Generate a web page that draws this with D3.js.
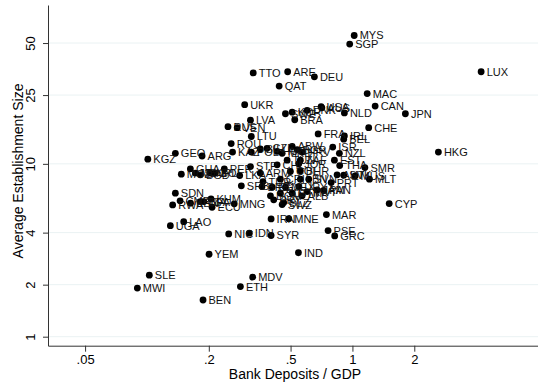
<!DOCTYPE html>
<html>
<head>
<meta charset="utf-8">
<script src="https://cdn.jsdelivr.net/npm/d3@7"></script>
<style>
  body { margin: 0; background: #fff; }
  svg { font-family: "Liberation Sans", Arial, Helvetica, sans-serif; }
</style>
</head>
<body>
<div id="chart"></div>
<script>
// country codes, bank deposits / GDP, average establishment size
const codes = [
  "MYS","SGP","TTO","ARE","DEU","QAT","LUX","MAC","UKR","CAN",
  "JPN","NLD","USA","AUS","DNK","KOR","SWE","BRA","CHE","FRA",
  "IRL","BEL","HKG","ISR","NZL","ABW","HRV","EST","THA","SMR",
  "MLT","AUT","SVK","MUS","PRT","PAN","JAM","ALB","CYP","MAR",
  "MNE","PSE","GRC","IND","IRN","SWZ","UGA","LAO","NIC","IDN",
  "SYR","YEM","SLE","MWI","MDV","ETH","BEN","LVA","RUS","VEN",
  "LTU","ROU","KAZ","KGZ","GEO","ARG","GHA","PER","MOZ","MDG",
  "BGD","NPL","BOL","LKA","STP","ARM","SRB","BRB","TUR","SDN",
  "KHM","MNG","RWA","CMR","KEN","TZA","ECU","PRY","DOM","POL",
  "BIH","CZE","HUN","MKD","BGR","CHL","TUN","JOR","ZAF","BHR",
  "COL","CRI","SVN","LBN","MEX","EGY","URY","KWT","SLV","GTM",
  "BLZ","BFA"
];
const depositsGDP = [
  1.02, 0.97, 0.329, 0.484, 0.653, 0.44, 4.23, 1.18, 0.299, 1.29,
  1.81, 0.914, 0.704, 0.71, 0.602, 0.509, 0.472, 0.524, 1.20, 0.681,
  0.914, 0.907, 2.62, 0.802, 0.864, 0.509, 0.569, 0.817, 0.867, 1.15,
  1.21, 0.842, 0.907, 1.03, 0.788, 0.725, 0.673, 0.569, 1.51, 0.747,
  0.49, 0.761, 0.82, 0.546, 0.402, 0.455, 0.130, 0.151, 0.25, 0.315,
  0.402, 0.2006, 0.1027, 0.0898, 0.327, 0.285, 0.1875, 0.319, 0.248, 0.275,
  0.322, 0.257, 0.261, 0.101, 0.1375, 0.1855, 0.1627, 0.238, 0.147, 0.172,
  0.182, 0.204, 0.215, 0.2827, 0.319, 0.356, 0.288, 0.363, 0.367, 0.1375,
  0.205, 0.266, 0.1334, 0.145, 0.163, 0.182, 0.2075, 0.414, 0.399, 0.322,
  0.356, 0.384, 0.43, 0.455, 0.538, 0.43, 0.481, 0.548, 0.558, 0.558,
  0.499, 0.446, 0.613, 0.558, 0.472, 0.407, 0.548, 0.602, 0.446, 0.509,
  0.463, 0.189
];
const estSize = [
  55.3, 49.3, 33.6, 34.1, 31.9, 28.2, 34.1, 25.5, 22.0, 21.6,
  19.5, 19.7, 21.4, 21.1, 20.4, 19.9, 19.5, 18.0, 16.2, 14.9,
  14.5, 13.9, 11.7, 12.5, 11.5, 12.6, 11.7, 10.5, 9.78, 9.52,
  8.15, 8.64, 8.60, 8.52, 7.79, 7.01, 7.07, 6.53, 5.89, 5.09,
  4.82, 4.11, 3.83, 3.06, 4.80, 5.81, 4.39, 4.63, 3.93, 3.97,
  3.85, 3.0, 2.27, 1.91, 2.21, 1.95, 1.63, 17.9, 16.4, 16.2,
  14.4, 13.1, 11.7, 10.65, 11.5, 11.1, 9.36, 9.36, 8.72, 8.84,
  8.64, 8.84, 8.84, 8.56, 9.65, 8.84, 7.46, 7.39, 7.90, 6.77,
  6.27, 5.87, 5.79, 6.11, 5.92, 6.05, 5.61, 6.19, 6.53, 11.7,
  12.2, 12.3, 11.8, 11.5, 12.1, 9.87, 10.5, 10.0, 10.5, 9.11,
  9.03, 8.15, 8.15, 8.15, 7.33, 7.33, 7.39, 6.91, 6.77, 6.77,
  5.97, 6.05
];
const xTicks = [0.05, 0.2, 0.5, 1, 2];
const xTickLabels = [".05", ".2", ".5", "1", "2"];
const yTicks = [1, 2, 4, 10, 25, 50];

const points = codes.map((c, i) => ({ code: c, x: depositsGDP[i], y: estSize[i] }));

const W = 538, H = 385;
const plot = { left: 48, right: 538, top: 5, bottom: 345.7 };

const svg = d3.select("#chart").append("svg")
  .attr("width", W)
  .attr("height", H);

const x = d3.scaleLog().domain([0.033, 8.0]).range([plot.left, plot.right]);
const y = d3.scaleLog().domain([0.887, 83]).range([plot.bottom, plot.top]);

// horizontal grid lines
svg.append("g")
  .selectAll("line")
  .data(yTicks)
  .join("line")
  .attr("x1", plot.left)
  .attr("x2", plot.right)
  .attr("y1", d => y(d))
  .attr("y2", d => y(d))
  .attr("stroke", "#eaf2f3")
  .attr("stroke-width", 1);

// x axis
const xAxis = svg.append("g")
  .attr("transform", `translate(0, ${plot.bottom})`)
  .call(d3.axisBottom(x)
    .tickValues(xTicks)
    .tickFormat((d, i) => xTickLabels[i])
    .tickSize(6)
    .tickSizeOuter(0));
xAxis.select(".domain").attr("stroke", "#333");
xAxis.selectAll(".tick line").attr("stroke", "#333");
xAxis.selectAll(".tick text")
  .attr("font-size", 13)
  .attr("font-family", "Liberation Sans, Arial, sans-serif")
  .attr("fill", "#000")
  .attr("y", 9)
  .attr("dy", "0.71em");

// y axis with rotated labels
const yAxis = svg.append("g")
  .attr("transform", `translate(${plot.left}, 0)`)
  .call(d3.axisLeft(y)
    .tickValues(yTicks)
    .tickFormat(d3.format("d"))
    .tickSize(5)
    .tickSizeOuter(0));
yAxis.select(".domain").attr("stroke", "#333");
yAxis.selectAll(".tick line").attr("stroke", "#333");
yAxis.selectAll(".tick text")
  .attr("font-size", 13)
  .attr("font-family", "Liberation Sans, Arial, sans-serif")
  .attr("fill", "#000")
  .attr("text-anchor", "middle")
  .attr("x", 0)
  .attr("y", -13)
  .attr("dy", 0)
  .attr("transform", "rotate(-90)");

// axis titles
svg.append("text")
  .attr("x", 295)
  .attr("y", 379)
  .attr("text-anchor", "middle")
  .attr("font-size", 14)
  .text("Bank Deposits / GDP");

svg.append("text")
  .attr("transform", `translate(23, 171) rotate(-90)`)
  .attr("text-anchor", "middle")
  .attr("font-size", 14)
  .text("Average Establishment Size");

// points and labels
const marks = svg.append("g");
marks.selectAll("circle")
  .data(points)
  .join("circle")
  .attr("cx", d => x(d.x))
  .attr("cy", d => y(d.y))
  .attr("r", 3.4)
  .attr("fill", "#000");

marks.selectAll("text")
  .data(points)
  .join("text")
  .attr("x", d => x(d.x) + 5.5)
  .attr("y", d => y(d.y))
  .attr("dy", "0.36em")
  .attr("font-size", 11)
  .attr("fill", "#111")
  .text(d => d.code);
</script>
</body>
</html>
